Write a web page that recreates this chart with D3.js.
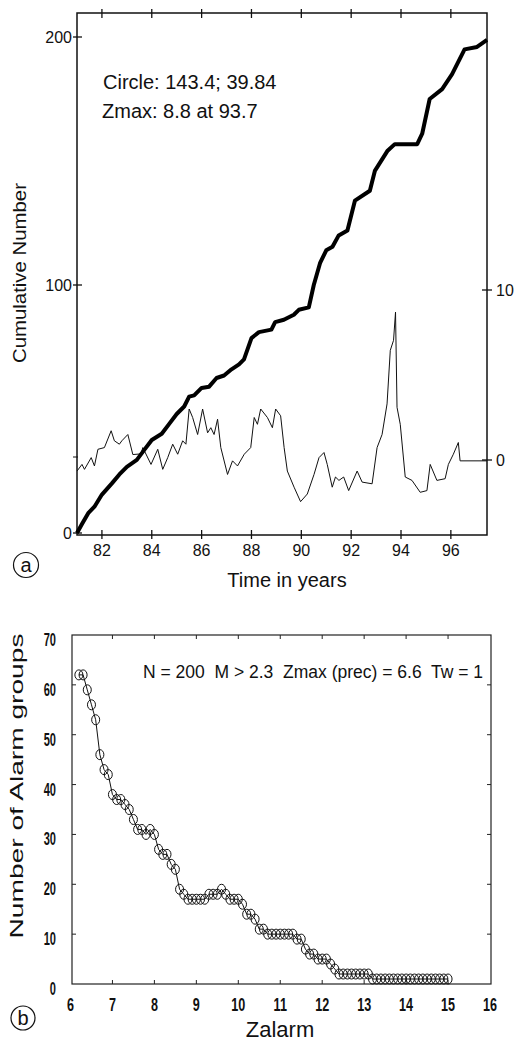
<!DOCTYPE html>
<html><head><meta charset="utf-8">
<script src="https://cdn.jsdelivr.net/npm/d3@7"></script>
<style>
html,body{margin:0;padding:0;background:#fff;}
svg{display:block;font-family:"Liberation Sans",Arial,Helvetica,sans-serif;}
</style></head>
<body>
<svg id="c" width="518" height="1043"></svg>
<script>
// ---------- Panel (a) data ----------
const cumYears  = [81.0, 81.2, 81.45, 81.7, 82.0, 82.4, 82.7, 83.0, 83.4, 83.7, 84.0, 84.4, 84.7, 85.0, 85.3, 85.5, 85.7, 86.0, 86.3, 86.6, 86.9, 87.2, 87.5, 87.7, 88.0, 88.3, 88.8, 88.95, 89.3, 89.7, 89.9, 90.3, 90.5, 90.75, 91.0, 91.25, 91.5, 91.85, 92.15, 92.75, 92.95, 93.45, 93.75, 94.65, 94.85, 95.15, 95.65, 96.05, 96.55, 97.05, 97.45];
const cumValues = [0, 3.6, 8, 10.6, 15.5, 20, 23.6, 26.7, 29.5, 33.5, 37.5, 40, 44, 48, 51, 55, 55.5, 58.5, 59, 62.5, 63.5, 66, 68, 70, 78.6, 81, 82, 85, 86, 88, 90, 91, 100, 108.8, 114, 115.4, 120, 122, 134, 138, 146, 154, 156.8, 156.8, 161, 175, 179, 185, 195, 196, 198.8];

const zYears  = [81.0, 81.2, 81.3, 81.57, 81.7, 81.84, 82.1, 82.37, 82.5, 82.7, 82.8, 83.04, 83.24, 83.57, 83.64, 83.97, 84.24, 84.44, 84.64, 84.84, 85.04, 85.24, 85.37, 85.5, 85.64, 85.84, 86.04, 86.24, 86.37, 86.5, 86.64, 86.77, 87.04, 87.24, 87.44, 87.71, 87.97, 88.11, 88.24, 88.37, 88.64, 88.84, 88.97, 89.17, 89.31, 89.44, 89.71, 89.97, 90.24, 90.51, 90.71, 90.91, 91.04, 91.24, 91.37, 91.51, 91.7, 91.9, 92.24, 92.44, 92.84, 93.04, 93.24, 93.44, 93.57, 93.7, 93.78, 93.84, 93.97, 94.17, 94.44, 94.77, 95.04, 95.17, 95.44, 95.77, 95.9, 96.1, 96.3, 96.37, 97.45];
const zValues = [-0.65, -0.26, -0.55, 0.14, -0.35, 0.63, 0.73, 1.72, 1.13, 0.93, 1.13, 1.5, 0.32, 0.36, 0.73, -0.26, 0.63, -0.55, 0.14, 0.93, 0.34, 1.13, 0.93, 3.0, 2.5, 1.5, 3.0, 1.6, 1.9, 1.5, 2.4, 0.73, -0.85, -0.05, -0.35, 0.34, 0.73, 2.5, 2.1, 3.0, 2.5, 1.9, 3.0, 2.6, 0.73, -0.65, -1.6, -2.45, -2.0, -0.85, 0.14, 0.44, -0.26, -1.6, -1.0, -1.2, -1.0, -1.8, -0.65, -1.3, -1.4, 0.73, 1.5, 3.3, 6.45, 7.04, 8.7, 3.1, 2.1, -1.0, -1.2, -1.9, -1.8, -0.26, -1.2, -1.1, -0.26, 0.34, 1.03, -0.05, -0.05];

const yearTicks = [82, 84, 86, 88, 90, 92, 94, 96];
const cumTicks = [0, 100, 200];
const zTicks = [0, 10];

// ---------- Panel (b) data ----------
const zalarm = [6.2, 6.3, 6.4, 6.5, 6.6, 6.7, 6.8, 6.9, 7.0, 7.1, 7.2, 7.3, 7.4, 7.5, 7.6, 7.7, 7.8, 7.9, 8.0, 8.1, 8.2, 8.3, 8.4, 8.5, 8.6, 8.7, 8.8, 8.9, 9.0, 9.1, 9.2, 9.3, 9.4, 9.5, 9.6, 9.7, 9.8, 9.9, 10.0, 10.1, 10.2, 10.3, 10.4, 10.5, 10.6, 10.7, 10.8, 10.9, 11.0, 11.1, 11.2, 11.3, 11.4, 11.5, 11.6, 11.7, 11.8, 11.9, 12.0, 12.1, 12.2, 12.3, 12.4, 12.5, 12.6, 12.7, 12.8, 12.9, 13.0, 13.1, 13.2, 13.3, 13.4, 13.5, 13.6, 13.7, 13.8, 13.9, 14.0, 14.1, 14.2, 14.3, 14.4, 14.5, 14.6, 14.7, 14.8, 14.9, 15.0];
const alarmGroups = [62, 62, 59, 56, 53, 46, 43, 42, 38, 37, 37, 36, 35, 33, 31, 31, 30, 31, 30, 27, 26, 26, 24, 23, 19, 18, 17, 17, 17, 17, 17, 18, 18, 18, 19, 18, 17, 17, 17, 16, 14, 14, 13, 11, 11, 10, 10, 10, 10, 10, 10, 10, 9, 9, 7, 6, 6, 5, 5, 5, 4, 3, 2, 2, 2, 2, 2, 2, 2, 2, 1, 1, 1, 1, 1, 1, 1, 1, 1, 1, 1, 1, 1, 1, 1, 1, 1, 1, 1];
const zalarmTicks = [6, 7, 8, 9, 10, 11, 12, 13, 14, 15, 16];
const groupTicks = [0, 10, 20, 30, 40, 50, 60, 70];

const svg = d3.select("#c");

// ================= Panel (a) =================
const A = {l: 77, r: 487, t: 13, b: 535};
const xA = d3.scaleLinear().domain([81, 97.45]).range([A.l, A.r]);
const yC = d3.scaleLinear().domain([0, 200]).range([533, 37]);
const yZ = d3.scaleLinear().domain([0, 10]).range([460, 290]);

const ga = svg.append("g");
ga.append("rect").attr("x", A.l).attr("y", A.t).attr("width", A.r - A.l).attr("height", A.b - A.t)
  .attr("fill", "none").attr("stroke", "#111").attr("stroke-width", 1.5);

ga.selectAll(".bt").data(yearTicks).join("line")
  .attr("x1", d => xA(d)).attr("x2", d => xA(d)).attr("y1", A.b - 5).attr("y2", A.b + 4)
  .attr("stroke", "#111").attr("stroke-width", 1.3);
ga.selectAll(".tt").data(yearTicks).join("line")
  .attr("x1", d => xA(d)).attr("x2", d => xA(d)).attr("y1", A.t - 4).attr("y2", A.t + 5)
  .attr("stroke", "#111").attr("stroke-width", 1.3);
ga.selectAll(".bl").data(yearTicks).join("text")
  .attr("x", d => xA(d)).attr("y", 556).attr("text-anchor", "middle")
  .attr("font-size", 16).attr("fill", "#111").text(d => d);

ga.selectAll(".lt").data(cumTicks).join("line")
  .attr("x1", A.l - 4).attr("x2", A.l + 5).attr("y1", d => yC(d)).attr("y2", d => yC(d))
  .attr("stroke", "#111").attr("stroke-width", 1.3);
ga.append("line").attr("x1", A.l - 4).attr("x2", A.l + 1).attr("y1", yZ(0) - 3).attr("y2", yZ(0) - 3)
  .attr("stroke", "#111").attr("stroke-width", 1);
ga.selectAll(".ll").data(cumTicks).join("text")
  .attr("x", A.l - 5).attr("y", d => yC(d) + 6).attr("text-anchor", "end")
  .attr("font-size", 16).attr("fill", "#111").text(d => d);

ga.selectAll(".rt").data(zTicks).join("line")
  .attr("x1", A.r - 5).attr("x2", A.r + 5).attr("y1", d => yZ(d)).attr("y2", d => yZ(d))
  .attr("stroke", "#111").attr("stroke-width", 1.3);
ga.selectAll(".rl").data(zTicks).join("text")
  .attr("x", A.r + 9).attr("y", d => yZ(d) + 6).attr("text-anchor", "start")
  .attr("font-size", 16).attr("fill", "#111").text(d => d);

ga.append("path").datum(zYears.map((y, i) => [y, zValues[i]]))
  .attr("d", d3.line().x(d => xA(d[0])).y(d => yZ(d[1])))
  .attr("fill", "none").attr("stroke", "#111").attr("stroke-width", 1);

ga.append("path").datum(cumYears.map((y, i) => [y, cumValues[i]]))
  .attr("d", d3.line().x(d => xA(d[0])).y(d => yC(d[1])))
  .attr("fill", "none").attr("stroke", "#000").attr("stroke-width", 4).attr("stroke-linejoin", "round");

ga.append("text").attr("x", 103).attr("y", 89).attr("font-size", 20).attr("fill", "#111").text("Circle: 143.4; 39.84");
ga.append("text").attr("x", 102).attr("y", 118).attr("font-size", 20).attr("fill", "#111").text("Zmax: 8.8 at 93.7");

ga.append("text").attr("x", 287).attr("y", 587).attr("text-anchor", "middle")
  .attr("font-size", 20).attr("fill", "#111").text("Time in years");
ga.append("text").attr("transform", "translate(26,273) rotate(-90)").attr("text-anchor", "middle")
  .attr("font-size", 19).attr("fill", "#111")
  .attr("textLength", 180).attr("lengthAdjust", "spacingAndGlyphs").text("Cumulative Number");

ga.append("circle").attr("cx", 26).attr("cy", 565).attr("r", 12.5).attr("fill", "none").attr("stroke", "#111").attr("stroke-width", 1.2);
ga.append("text").attr("x", 26).attr("y", 571.5).attr("text-anchor", "middle").attr("font-size", 20).attr("fill", "#111").text("a");

// ================= Panel (b) =================
const B = {l: 72, r: 491, t: 635, b: 984};
const xB = d3.scaleLinear().domain([6, 16]).range([70.5, 490]);
const yB = d3.scaleLinear().domain([0, 70]).range([984, 635]);

const gb = svg.append("g");
gb.append("rect").attr("x", B.l).attr("y", B.t).attr("width", B.r - B.l).attr("height", B.b - B.t)
  .attr("fill", "none").attr("stroke", "#222").attr("stroke-width", 1.2);

const innerX = zalarmTicks.filter(d => d > 6 && d < 16);
const innerY = groupTicks.filter(d => d > 0 && d < 70);
gb.selectAll(".bxt").data(innerX).join("line")
  .attr("x1", d => xB(d)).attr("x2", d => xB(d)).attr("y1", B.b).attr("y2", B.b - 4)
  .attr("stroke", "#222").attr("stroke-width", 1);
gb.selectAll(".txt").data(innerX).join("line")
  .attr("x1", d => xB(d)).attr("x2", d => xB(d)).attr("y1", B.t).attr("y2", B.t + 4)
  .attr("stroke", "#222").attr("stroke-width", 1);
gb.selectAll(".lyt").data(innerY).join("line")
  .attr("x1", B.l).attr("x2", B.l + 4).attr("y1", d => yB(d)).attr("y2", d => yB(d))
  .attr("stroke", "#222").attr("stroke-width", 1);
gb.selectAll(".ryt").data(innerY).join("line")
  .attr("x1", B.r).attr("x2", B.r - 4).attr("y1", d => yB(d)).attr("y2", d => yB(d))
  .attr("stroke", "#222").attr("stroke-width", 1);

gb.selectAll(".xl").data(zalarmTicks).join("text")
  .attr("transform", d => `translate(${xB(d)},1011) scale(0.9,1.25)`)
  .attr("text-anchor", "middle").attr("font-size", 14).attr("font-weight", "bold")
  .attr("fill", "#111").text(d => d);
gb.selectAll(".yl").data(groupTicks).join("text")
  .attr("transform", d => `translate(56,${yB(d) + 11}) scale(0.85,1.35)`)
  .attr("text-anchor", "end").attr("font-size", 13).attr("font-weight", "bold")
  .attr("fill", "#111").text(d => d);

const pts = zalarm.map((z, i) => [z, alarmGroups[i]]);
gb.append("path").datum(pts)
  .attr("d", d3.line().x(d => xB(d[0])).y(d => yB(d[1])))
  .attr("fill", "none").attr("stroke", "#111").attr("stroke-width", 1);
gb.selectAll(".pt").data(pts).join("ellipse")
  .attr("cx", d => xB(d[0])).attr("cy", d => yB(d[1])).attr("rx", 4).attr("ry", 5)
  .attr("fill", "none").attr("stroke", "#111").attr("stroke-width", 1);

gb.append("text").attr("x", 143).attr("y", 678).attr("font-size", 17.5).attr("fill", "#111")
  .attr("xml:space", "preserve").style("white-space", "pre")
  .text("N = 200  M > 2.3  Zmax (prec) = 6.6  Tw = 1");

gb.append("text").attr("x", 280).attr("y", 1037).attr("text-anchor", "middle")
  .attr("font-size", 22).attr("fill", "#111").text("Zalarm");
gb.append("text").attr("transform", "translate(23,786) rotate(-90)").attr("text-anchor", "middle")
  .attr("font-size", 19).attr("fill", "#111")
  .attr("textLength", 305).attr("lengthAdjust", "spacingAndGlyphs").text("Number of Alarm groups");

gb.append("circle").attr("cx", 23).attr("cy", 1018).attr("r", 12).attr("fill", "none").attr("stroke", "#111").attr("stroke-width", 1.2);
gb.append("text").attr("x", 23).attr("y", 1025).attr("text-anchor", "middle").attr("font-size", 20).attr("fill", "#111").text("b");
</script>
</body></html>
